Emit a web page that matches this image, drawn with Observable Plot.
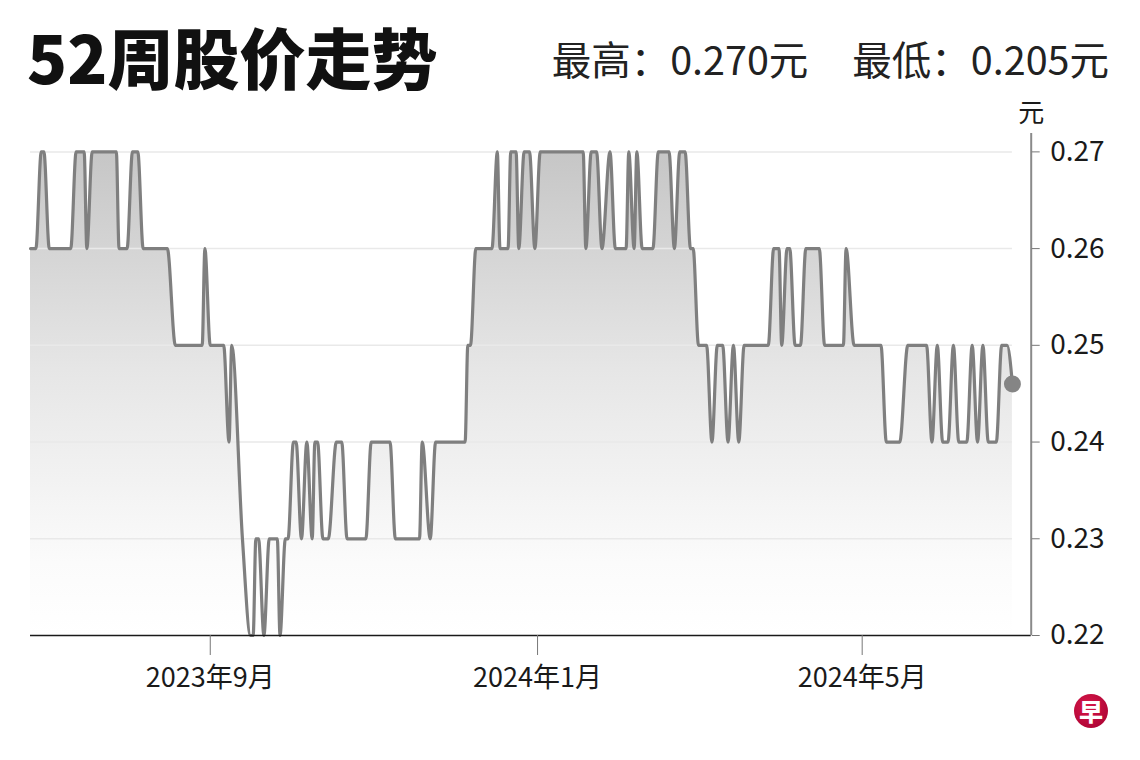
<!DOCTYPE html>
<html><head><meta charset="utf-8">
<script src="https://cdn.jsdelivr.net/npm/d3@7"></script>
<script src="https://cdn.jsdelivr.net/npm/@observablehq/plot@0.6"></script>
<style>
body{margin:0;background:#fff;font-family:"Noto Sans CJK SC","Noto Sans",sans-serif;}
#wrap{position:relative;width:1140px;height:760px;overflow:hidden;background:#fff;}
#title{position:absolute;left:27px;top:22px;font-size:66px;font-weight:900;line-height:1;color:#111;}
#stats{position:absolute;right:31px;top:38px;font-size:39.5px;line-height:1;color:#222;white-space:pre;}
#stats .gap{display:inline-block;width:44px;}
#chart{position:absolute;left:0;top:100px;}
#logo{position:absolute;left:1074px;top:694px;width:34px;height:34px;border-radius:50%;background:radial-gradient(circle at 40% 35%,#d8174a,#a3002f);color:#fff;font-size:24px;font-weight:900;line-height:34px;text-align:center;}
</style></head>
<body>
<div id="wrap">
  <div id="title"></div>
  <div id="stats"></div>
  <div id="chart"></div>
  <div id="logo">早</div>
</div>
<script>
// ---- data ----
const dates = [
 "2023-06-26","2023-06-28","2023-06-30","2023-07-01","2023-07-03","2023-07-11","2023-07-13","2023-07-16",
 "2023-07-17","2023-07-19","2023-07-28","2023-07-29","2023-08-01","2023-08-03","2023-08-05","2023-08-07",
 "2023-08-16","2023-08-19","2023-08-29","2023-08-30","2023-09-01","2023-09-06","2023-09-08","2023-09-09",
 "2023-09-13","2023-09-16","2023-09-17","2023-09-18","2023-09-19","2023-09-21","2023-09-23","2023-09-26",
 "2023-09-27","2023-09-29","2023-09-30","2023-10-02","2023-10-03","2023-10-05","2023-10-07","2023-10-09",
 "2023-10-10","2023-10-11","2023-10-13","2023-10-15","2023-10-18","2023-10-20","2023-10-22","2023-10-29",
 "2023-10-31","2023-11-07","2023-11-09","2023-11-18","2023-11-19","2023-11-22","2023-11-24","2023-12-05",
 "2023-12-06","2023-12-07","2023-12-09","2023-12-15","2023-12-17","2023-12-18","2023-12-21","2023-12-22",
 "2023-12-24","2023-12-25","2023-12-27","2023-12-29","2023-12-31","2024-01-02","2024-01-18","2024-01-19",
 "2024-01-21","2024-01-23","2024-01-25","2024-01-28","2024-01-30","2024-02-03","2024-02-04","2024-02-06",
 "2024-02-07","2024-02-09","2024-02-13","2024-02-15","2024-02-19","2024-02-21","2024-02-23","2024-02-25",
 "2024-02-27","2024-02-28","2024-03-01","2024-03-04","2024-03-06","2024-03-08","2024-03-10","2024-03-12",
 "2024-03-14","2024-03-16","2024-03-18","2024-03-27","2024-03-29","2024-03-31","2024-04-01","2024-04-03",
 "2024-04-04","2024-04-06","2024-04-08","2024-04-10","2024-04-15","2024-04-17","2024-04-24","2024-04-25",
 "2024-04-28","2024-05-08","2024-05-10","2024-05-15","2024-05-18","2024-05-25","2024-05-27","2024-05-29",
 "2024-05-31","2024-06-02","2024-06-04","2024-06-06","2024-06-09","2024-06-11","2024-06-13","2024-06-15",
 "2024-06-17","2024-06-20","2024-06-22","2024-06-24","2024-06-26"
];
const prices = [
 0.26,0.26,0.27,0.27,0.26,0.26,0.27,0.27,
 0.26,0.27,0.27,0.26,0.26,0.27,0.27,0.26,
 0.26,0.25,0.25,0.26,0.25,0.25,0.24,0.25,
 0.23,0.22,0.22,0.23,0.23,0.22,0.23,0.23,
 0.22,0.23,0.23,0.24,0.24,0.23,0.24,0.23,
 0.24,0.24,0.23,0.23,0.24,0.24,0.23,0.23,
 0.24,0.24,0.23,0.23,0.24,0.23,0.24,0.24,
 0.25,0.25,0.26,0.26,0.27,0.26,0.26,0.27,
 0.27,0.26,0.27,0.27,0.26,0.27,0.27,0.26,
 0.27,0.27,0.26,0.27,0.26,0.26,0.27,0.26,
 0.27,0.26,0.26,0.27,0.27,0.26,0.27,0.27,
 0.26,0.26,0.25,0.25,0.24,0.25,0.25,0.24,
 0.25,0.24,0.25,0.25,0.26,0.26,0.25,0.26,
 0.26,0.25,0.25,0.26,0.26,0.25,0.25,0.26,
 0.25,0.25,0.24,0.24,0.25,0.25,0.24,0.25,
 0.24,0.24,0.25,0.24,0.24,0.25,0.24,0.25,
 0.24,0.24,0.25,0.25,0.246
];
const xTicks = ["2023-09-01","2024-01-01","2024-05-01"];
const xTickLabels = ["2023年9月","2024年1月","2024年5月"];
const yTicks = [0.22,0.23,0.24,0.25,0.26,0.27];
const yUnit = "元";
const titleText = "52周股价走势";
const highLabel = "最高：", highValue = "0.270元";
const lowLabel = "最低：", lowValue = "0.205元";
const xDomain = ["2023-06-26","2024-07-03"];

document.getElementById("title").textContent = titleText;
const stats = document.getElementById("stats");
stats.appendChild(document.createTextNode(highLabel + highValue));
const gap = document.createElement("span"); gap.className = "gap"; stats.appendChild(gap);
stats.appendChild(document.createTextNode(lowLabel + lowValue));

const data = dates.map((d,i)=>({date:new Date(d), price:prices[i]}));
const last = data[data.length-1];
const xTickDates = xTicks.map(d=>new Date(d));
const labelMap = new Map(xTickDates.map((d,i)=>[+d, xTickLabels[i]]));

const svg = Plot.plot({
  width: 1140,
  height: 660,
  marginLeft: 30,
  marginRight: 109.3,
  marginTop: 33,
  marginBottom: 125,
  style: {fontFamily: '"Noto Sans CJK SC","Noto Sans",sans-serif', background: "transparent", overflow: "visible"},
  x: {type: "utc", domain: xDomain.map(d=>new Date(d))},
  y: {domain: [0.22, 0.2719]},
  marks: [
    Plot.areaY(data, {x:"date", y1:0.22, y2:"price", fill:"url(#fillGrad)", curve:"monotone-x"}),
    Plot.ruleY(yTicks.filter(t=>t>0.22), {x1: data[0].date, x2: last.date, stroke:"#e9e9e9", strokeWidth:1.5}),
    Plot.line(data, {x:"date", y:"price", stroke:"#7f7f7f", strokeWidth:3.2, strokeLinejoin:"round", strokeLinecap:"round", curve:"monotone-x"}),
    Plot.dot([last], {x:"date", y:"price", r:8.5, fill:"#858585", stroke:"none"}),
    Plot.ruleY([0.22], {stroke:"#1a1a1a", strokeWidth:1.6}),
    Plot.ruleX([new Date(xDomain[1])], {stroke:"#8a8a8a", strokeWidth:2}),
    Plot.axisX({ticks: xTickDates, tickFormat: d=>labelMap.get(+d), tickSize: 20, tickPadding: 12, fontSize: 27, stroke:"#777", color:"#1a1a1a", label: null}),
    Plot.axisY({anchor:"right", ticks: yTicks, tickFormat: d=>d.toFixed(2), tickSize: 8, tickPadding: 11, fontSize: 28, stroke:"#777", color:"#1a1a1a", label: null}),
    Plot.text([yUnit], {frameAnchor:"top-right", dy:-30, textAnchor:"middle", fontSize:26, fill:"#1a1a1a"})
  ]
});
d3.select(svg).insert("defs", ":first-child").html(
  '<linearGradient id="fillGrad" x1="0" y1="0" x2="0" y2="1">' +
  '<stop offset="0" stop-color="#c6c6c6"/>' +
  '<stop offset="0.45" stop-color="#e6e6e6"/>' +
  '<stop offset="0.85" stop-color="#fbfbfb"/>' +
  '<stop offset="1" stop-color="#ffffff"/></linearGradient>'
);
document.getElementById("chart").appendChild(svg);
</script>
</body></html>
